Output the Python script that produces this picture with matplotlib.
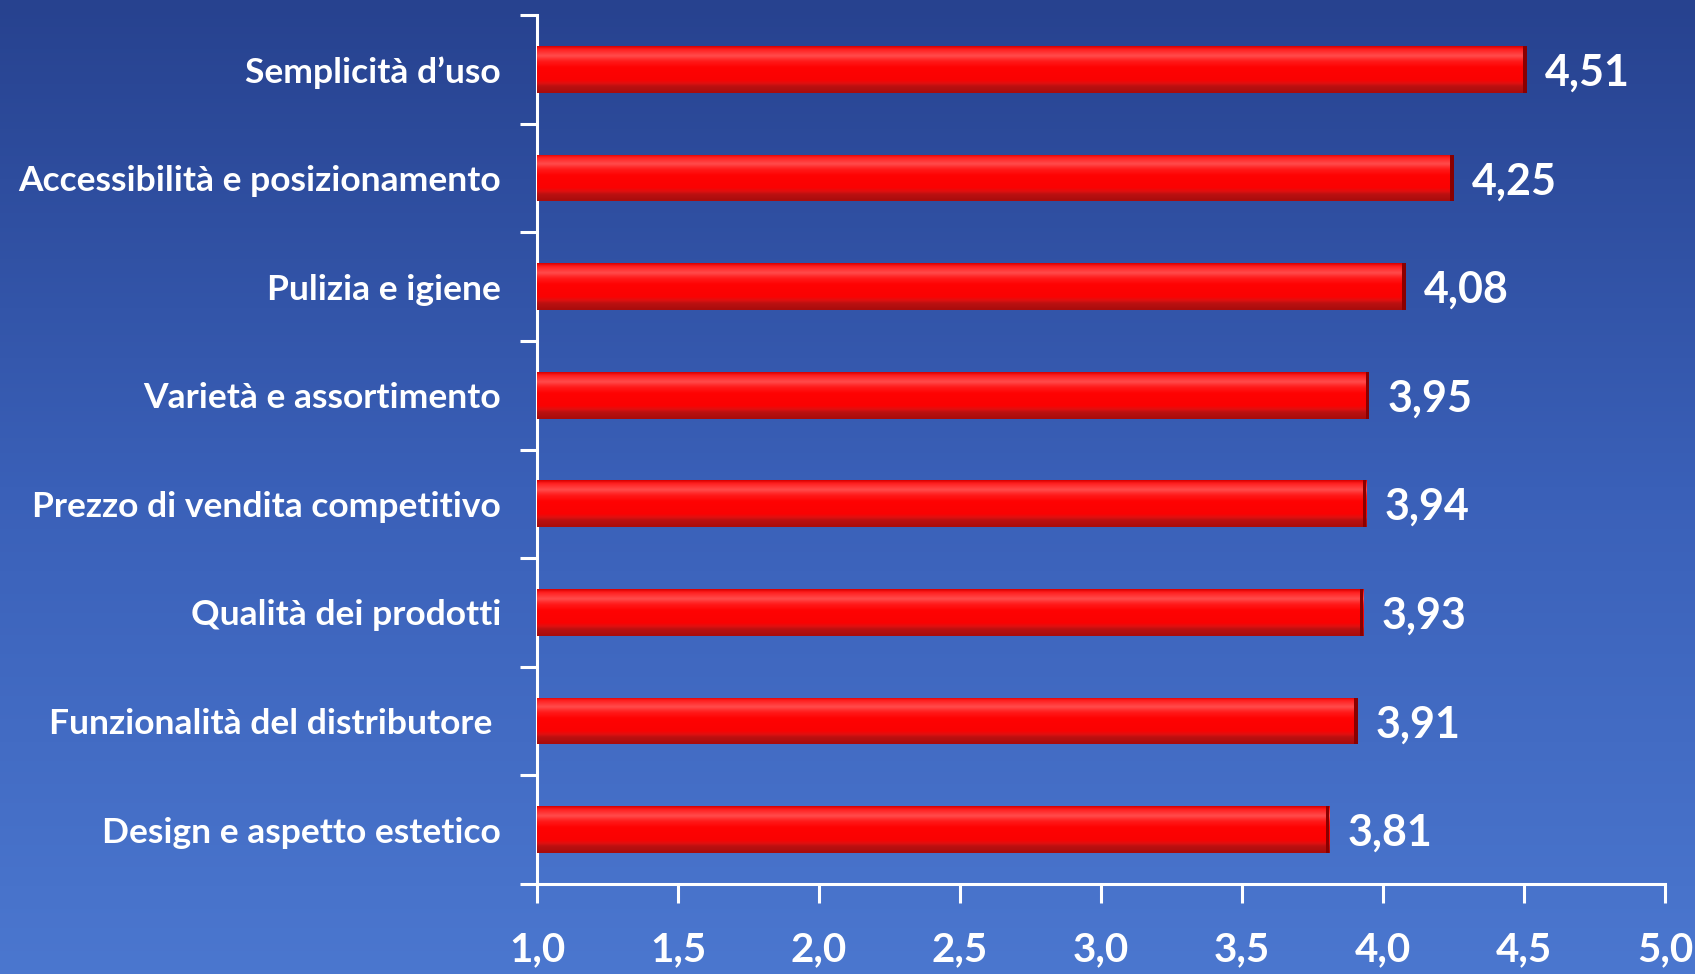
import numpy as np
import matplotlib.pyplot as plt
from matplotlib.colors import LinearSegmentedColormap

categories = ['Semplicità d\u2019uso', 'Accessibilità e posizionamento', 'Pulizia e igiene',
              'Varietà e assortimento', 'Prezzo di vendita competitivo', 'Qualità dei prodotti',
              'Funzionalità del distributore ', 'Design e aspetto estetico']
values = [4.51, 4.25, 4.08, 3.95, 3.94, 3.93, 3.91, 3.81]
value_labels = ['4,51', '4,25', '4,08', '3,95', '3,94', '3,93', '3,91', '3,81']
xticks = [1.0, 1.5, 2.0, 2.5, 3.0, 3.5, 4.0, 4.5, 5.0]
xtick_labels = ['1,0', '1,5', '2,0', '2,5', '3,0', '3,5', '4,0', '4,5', '5,0']

plt.rcParams['font.family'] = ['Lato', 'DejaVu Sans']

fig = plt.figure(figsize=(16.95, 9.74), dpi=100)

# background gradient
bg = fig.add_axes([0, 0, 1, 1], zorder=-10)
cmap = LinearSegmentedColormap.from_list('bgblue', ['#27428f', '#3a60b8', '#4b77cf'])
grad = np.linspace(0, 1, 256).reshape(-1, 1)
bg.imshow(grad, aspect='auto', cmap=cmap, extent=[0, 1, 1, 0])
bg.set_axis_off()

ax = fig.add_axes([537/1695, 1-884/974, (1665-537)/1695, (884-15)/974])
ax.patch.set_alpha(0)

y = np.arange(len(categories))
vals = np.array(values)
h = 0.43

# bar shading, top -> bottom
barcmap = LinearSegmentedColormap.from_list('barred', [
    (0.0, '#d80000'), (0.06, '#ff1e1e'), (0.2, '#ff4c4c'), (0.32, '#ff1a1a'),
    (0.45, '#ff0303'), (0.72, '#fa0202'), (0.8, '#e01010'), (0.86, '#bb1111'),
    (1.0, '#a80c0c')])
bgrad = np.linspace(0, 1, 64).reshape(-1, 1)

bars = ax.barh(y, vals - 1.0, left=1.0, height=h, color='#ff0404', zorder=3)
for b in bars:
    x0, y0 = b.get_x(), b.get_y()
    im = ax.imshow(bgrad, cmap=barcmap, aspect='auto', zorder=4, interpolation='bicubic',
                   extent=[x0, x0 + b.get_width(), y0 + h, y0])
    im.set_clip_path(b)
# right end
ax.barh(y, 0.012, left=vals - 0.012, height=h, color='#8a0000', zorder=5)

for yi, v, lab in zip(y, vals, value_labels):
    ax.text(v + 0.065, yi + 0.03, lab, va='center', ha='left', color='white',
            fontsize=31, fontweight='bold', zorder=6)

ax.set_xlim(1.0, 5.0)
ax.set_ylim(len(categories) - 0.5, -0.5)
ax.set_xticks(xticks)
ax.set_xticklabels(xtick_labels, fontsize=29, fontweight='bold', color='white')
ax.set_yticks(y)
ax.set_yticklabels(categories, fontsize=25.5, fontweight='bold', color='white')
ax.set_yticks(np.arange(-0.5, len(categories), 1.0), minor=True)
ax.tick_params(axis='y', which='major', length=0, pad=26)
ax.tick_params(axis='y', which='minor', length=12, width=2.2, color='white', direction='out')
ax.tick_params(axis='x', which='major', length=14, width=2.2, color='white', direction='out', pad=20)

for side in ['top', 'right']:
    ax.spines[side].set_visible(False)
for side in ['left', 'bottom']:
    ax.spines[side].set_color('white')
    ax.spines[side].set_linewidth(2.2)

fig.savefig('out.png', dpi=100)
